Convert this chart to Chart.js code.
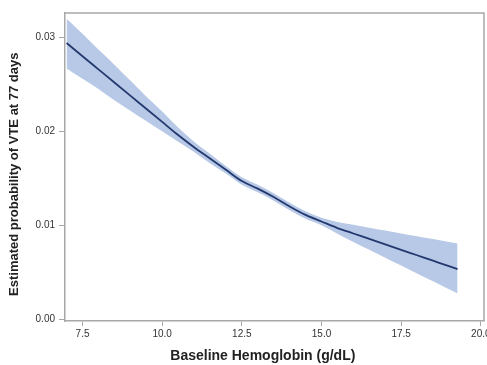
<!DOCTYPE html>
<html><head><meta charset="utf-8">
<script src="https://cdn.jsdelivr.net/npm/chart.js@4/dist/chart.umd.min.js"></script>
<style>html,body{margin:0;padding:0;background:#fff}#wrap{width:487px;height:365px}</style>
</head><body><div id="wrap"><canvas id="c" width="487" height="365"></canvas></div>
<script>
const hemoglobin   = [7.0, 7.5, 8.0, 8.5, 9.0, 9.5, 10.0, 10.5, 11.0, 11.5, 12.0, 12.5, 13.0, 13.5, 14.0, 14.5, 15.0, 15.5, 16.0, 16.5, 17.0, 17.5, 18.0, 18.5, 19.0, 19.27];
const probEstimate = [0.0294, 0.0280, 0.0266, 0.0252, 0.0238, 0.0224, 0.0210, 0.0196, 0.0183, 0.0171, 0.0159, 0.0147, 0.0139, 0.0130, 0.0120, 0.0111, 0.0104, 0.0097, 0.00912, 0.00854, 0.00796, 0.00738, 0.00680, 0.00622, 0.00564, 0.00532];
const ciUpper      = [0.0320, 0.0304, 0.0287, 0.0271, 0.0254, 0.0237, 0.0221, 0.0204, 0.0189, 0.0176, 0.0163, 0.0151, 0.0143, 0.0134, 0.0124, 0.0115, 0.0108, 0.01035, 0.01004, 0.00974, 0.00944, 0.00913, 0.00882, 0.00852, 0.00821, 0.00805];
const ciLower      = [0.0267, 0.0256, 0.0245, 0.0233, 0.0222, 0.0211, 0.0200, 0.0189, 0.0178, 0.0166, 0.0155, 0.0143, 0.0135, 0.0126, 0.0116, 0.0107, 0.0100, 0.0091, 0.00822, 0.00738, 0.00654, 0.00570, 0.00486, 0.00402, 0.00318, 0.00273];
const xTicks = [7.5, 10.0, 12.5, 15.0, 17.5, 20.0];
const yTicks = [0.00, 0.01, 0.02, 0.03];
const xTitle = 'Baseline Hemoglobin (g/dL)';
const yTitle = 'Estimated probability of VTE at 77 days';

const pts = arr => hemoglobin.map((x, i) => ({x: x, y: arr[i]}));
const BAND = 'rgb(183,201,230)';
const LINE = '#23386e';
const AXIS = '#a8a8a8';
const FONT = 'Liberation Sans, Arial, sans-serif';

const framePlugin = {
  id: 'frame',
  afterDraw(chart) {
    const a = chart.chartArea, ctx = chart.ctx;
    ctx.save();
    ctx.strokeStyle = AXIS;
    ctx.lineWidth = 1.5;
    ctx.beginPath();
    ctx.moveTo(a.left, a.top);
    ctx.lineTo(a.right, a.top);
    ctx.lineTo(a.right, a.bottom);
    ctx.stroke();
    ctx.restore();
  }
};

new Chart(document.getElementById('c'), {
  type: 'line',
  data: {
    datasets: [
      {label: 'Upper', data: pts(ciUpper), borderWidth: 0, borderColor: BAND, backgroundColor: BAND, fill: '+1', pointRadius: 0, order: 2, cubicInterpolationMode: 'monotone'},
      {label: 'Lower', data: pts(ciLower), borderWidth: 0, borderColor: BAND, backgroundColor: BAND, fill: false, pointRadius: 0, order: 3, cubicInterpolationMode: 'monotone'},
      {label: 'Estimate', data: pts(probEstimate), borderWidth: 1.8, borderColor: LINE, fill: false, pointRadius: 0, order: 0, cubicInterpolationMode: 'monotone'}
    ]
  },
  options: {
    responsive: false,
    animation: false,
    devicePixelRatio: 1,
    layout: {padding: {top: 13, right: 3, left: 0, bottom: 0}},
    plugins: {legend: {display: false}, tooltip: {enabled: false}},
    scales: {
      x: {
        type: 'linear', min: 6.95, max: 20.1,
        afterBuildTicks: s => { s.ticks = xTicks.map(v => ({value: v})); },
        afterFit: s => { s.height = 44; s.paddingLeft = 0; s.paddingRight = 0; },
        ticks: {callback: v => v.toFixed(1), color: '#333', font: {family: FONT, size: 10}, padding: 2, maxRotation: 0, autoSkip: false},
        grid: {drawOnChartArea: false, drawTicks: true, tickLength: 5, color: AXIS},
        border: {display: true, color: AXIS, width: 1.5},
        title: {display: true, text: xTitle + '\u00a0\u00a0\u00a0\u00a0\u00a0\u00a0', color: '#222', font: {family: FONT, size: 14, weight: 'bold'}, padding: {top: 0, bottom: 0}}
      },
      y: {
        type: 'linear', min: -0.0002, max: 0.0326,
        afterBuildTicks: s => { s.ticks = yTicks.map(v => ({value: v})); },
        afterFit: s => { s.width = 65; s.paddingTop = 0; s.paddingBottom = 0; },
        ticks: {callback: v => v.toFixed(2), color: '#333', font: {family: FONT, size: 10}, padding: 4},
        grid: {drawOnChartArea: false, drawTicks: true, tickLength: 6, color: AXIS},
        border: {display: true, color: AXIS, width: 1.5},
        title: {display: true, text: yTitle + '\u00a0\u00a0\u00a0\u00a0', color: '#222', font: {family: FONT, size: 13, weight: 'bold'}, padding: {top: 7, bottom: 0}}
      }
    }
  },
  plugins: [framePlugin]
});
</script></body></html>
